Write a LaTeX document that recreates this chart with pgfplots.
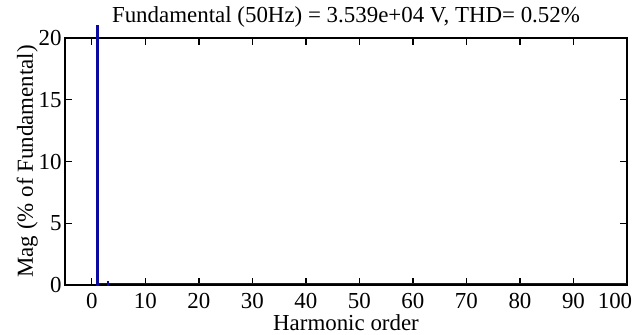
\documentclass[border=0pt]{standalone}
\usepackage{fontspec}
\setmainfont{Liberation Serif}
\usepackage{pgfplots}
\pgfplotsset{compat=1.18}
\definecolor{barblue}{RGB}{10,10,160}
\begin{document}
\begin{tikzpicture}
\useasboundingbox (-65bp,-50bp) rectangle (568bp,285bp);
\begin{axis}[
  at={(0,0)}, anchor=south west,
  scale only axis,
  width=562bp, height=247bp,
  xmin=-5, xmax=100, ymin=0, ymax=20,
  xtick={0,10,...,100},
  xticklabels={0,10,20,30,40,50,60,70,80,90,\hspace{-24bp}100},
  ytick={0,5,10,15,20},
  yticklabels={0,5,10,15,20},
  tick align=inside, tick pos=both,
  major tick length=7bp,
  axis line style={line width=2bp},
  every tick/.style={black, line width=1.4bp},
  /pgf/number format/assume math mode=true,
  ticklabel style={font=\fontsize{23}{27}\selectfont},
  xticklabel style={anchor=base, yshift=-23bp},
  yticklabel style={anchor=east, xshift=0bp},
  xticklabel shift=0pt,
  title={Fundamental (50Hz) = 3.539e+04 V, THD= 0.52\%},
  title style={font=\fontsize{23}{27}\selectfont, at={(0.5,1)}, anchor=base, yshift=10bp},
  xlabel={Harmonic order},
  xlabel style={font=\fontsize{23}{27}\selectfont, at={(0.5,0)}, anchor=base, yshift=-45bp},
  ylabel={Mag (\% of Fundamental)},
  ylabel style={font=\fontsize{23}{27}\selectfont, at={(0,0.5)}, anchor=base, yshift=32bp},
  clip=false,
]
\addplot[barblue, line width=1.3bp] coordinates {(1,0.1) (100,0.1)};
\addplot[ybar, bar width=0.3, fill=barblue, draw=barblue, line width=0.4bp] coordinates {(1,21.0) (3,0.3)};
\end{axis}
\end{tikzpicture}
\end{document}
